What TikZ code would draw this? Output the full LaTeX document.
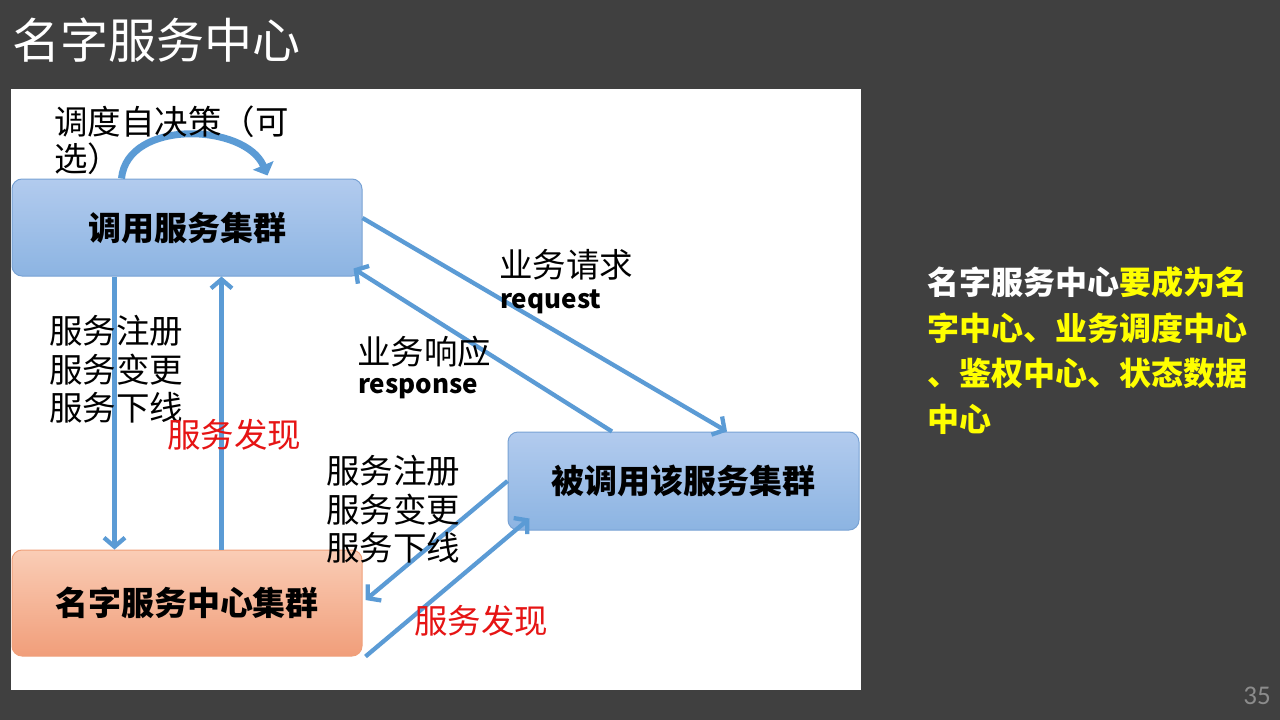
\documentclass[tikz,border=0pt]{standalone}
\usepackage{fontspec}
\setmainfont{Noto Sans CJK SC}
\newfontfamily\cjkfont{Noto Sans CJK SC}
\newfontfamily\pagefont{Carlito}
\usetikzlibrary{arrows.meta}
\definecolor{bgdark}{RGB}{64,64,64}
\definecolor{arrowblue}{RGB}{91,155,213}
\definecolor{bluetop}{RGB}{178,203,238}
\definecolor{bluebot}{RGB}{140,180,226}
\definecolor{blueedge}{RGB}{120,162,212}
\definecolor{orangetop}{RGB}{250,205,182}
\definecolor{orangebot}{RGB}{241,158,122}
\definecolor{orangeedge}{RGB}{240,160,122}
\definecolor{hlyellow}{RGB}{255,255,0}
\definecolor{labelred}{RGB}{230,20,20}
\definecolor{pagegray}{RGB}{140,140,140}
\begin{document}
\begin{tikzpicture}[x=1pt,y=-1pt,
  box/.style={rounded corners=10pt, line width=1pt, inner sep=0pt,
    font=\cjkfont\bfseries\fontsize{33}{33}\selectfont},
  bluebox/.style={box, draw=blueedge, top color=bluetop, bottom color=bluebot},
  orangebox/.style={box, draw=orangeedge, top color=orangetop, bottom color=orangebot},
  arr/.style={draw=arrowblue, line width=4.3pt, -{Straight Barb[length=9pt,width=21pt]}},
  looparr/.style={draw=arrowblue, line width=7pt, -{Triangle[length=11pt,width=22pt]}},
  lab/.style={anchor=west, align=left, inner sep=0pt, font=\cjkfont\fontsize{33.5}{38.5}\selectfont},
  redlab/.style={lab, text=labelred},
  latlab/.style={anchor=west, inner sep=0pt, font=\cjkfont\bfseries\fontsize{26}{26}\selectfont}
]
\useasboundingbox (0,0) rectangle (1280,720);
\fill[bgdark] (0,0) rectangle (1280,720);
\fill[white] (11,89) rectangle (861,690);

% title
\node[anchor=west, inner sep=0pt, text=white, font=\cjkfont\fontsize{48}{48}\selectfont] (title) at (12,40) {名字服务中心};

% boxes
\node[bluebox, minimum width=350pt, minimum height=97pt] (caller) at (187,227.5) {调用服务集群};
\node[bluebox, minimum width=351pt, minimum height=98pt] (callee) at (683.5,481) {被调用该服务集群};
\node[orangebox, minimum width=350pt, minimum height=106pt] (ns) at (187,603) {名字服务中心集群};

% self loop
\draw[looparr] ([xshift=110pt]caller.north west) .. controls +(6,-60) and +(-22,-52) .. ([xshift=256pt,yshift=3pt]caller.north west);

% request / response
\draw[arr] ([yshift=9.5pt]caller.east) -- ([xshift=43.5pt]callee.north);
\draw[arr] ([xshift=-71.5pt]callee.north) -- ([xshift=-9pt,yshift=8pt]caller.south east);

% left vertical arrows
\draw[arr] ([xshift=103pt]caller.south west) -- ([xshift=103pt]ns.north west);
\draw[arr] ([xshift=210pt]ns.north west) -- ([xshift=210pt]caller.south west);

% lower diagonal arrows
\draw[arr] (callee.west) -- ([xshift=3pt,yshift=3pt]ns.east);
\draw[arr] ([xshift=3pt]ns.south east) -- ([xshift=22pt,yshift=12pt]callee.south west);

% labels
\node[lab, font=\cjkfont\fontsize{33.5}{37}\selectfont] (selflab) at (54,140) {调度自决策（可\\选）};
\node[lab] (reqcn) at (499,265) {业务请求};
\node[latlab] (reqen) at (500,302) {request};
\node[lab] (respcn) at (357,352) {业务响应};
\node[latlab] (respen) at (358,389) {response};
\node[lab] (reg1) at (49,369.5) {服务注册\\服务变更\\服务下线};
\node[redlab] (disc1) at (167,435) {服务发现};
\node[lab] (reg2) at (326,509.5) {服务注册\\服务变更\\服务下线};
\node[redlab] (disc2) at (414,621) {服务发现};

% right text
\node[anchor=west, align=left, inner sep=0pt, text=hlyellow,
  font=\cjkfont\bfseries\fontsize{32}{45.7}\selectfont] (note) at (927,350.5)
  {{\color{white}名字服务中心}要成为名\\字中心、业务调度中心\\、鉴权中心、状态数据\\中心};

% page number
\node[anchor=east, inner sep=0pt, text=pagegray, font=\pagefont\fontsize{27}{27}\selectfont] (page) at (1271,696) {35};
\end{tikzpicture}
\end{document}
